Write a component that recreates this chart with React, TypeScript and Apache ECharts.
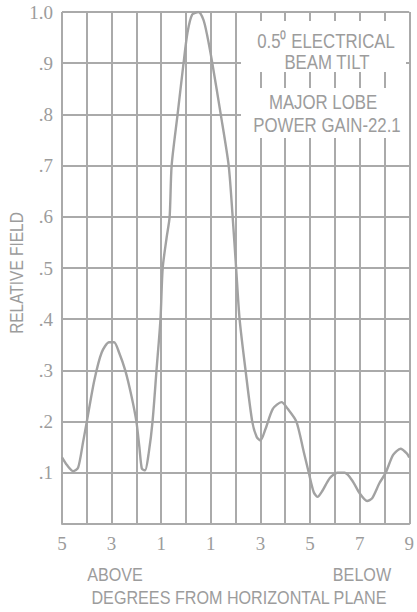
import React, { useEffect, useRef } from "react";
import * as echarts from "echarts";

// Degrees from horizontal plane (negative = above, positive = below)
const degrees = [
  -5.0, -4.8, -4.55, -4.35, -4.15, -4.0, -3.7, -3.4, -3.1, -2.9, -2.7, -2.45, -2.2, -2.0, -1.88, -1.78, -1.65, -1.5,
  -1.35, -1.19, -1.03, -0.94, -0.78, -0.66, -0.58, -0.34, -0.1, 0.06, 0.25, 0.5, 0.7, 0.85, 1.06, 1.4, 1.72, 1.88,
  2.02, 2.16, 2.4, 2.67, 2.85, 3.0, 3.2, 3.5, 3.85, 4.1, 4.45, 4.75, 4.95, 5.15, 5.3, 5.5, 5.8, 6.1, 6.4, 6.7, 7.0,
  7.3, 7.5, 7.8, 8.05, 8.35, 8.65, 8.9, 9.0,
];
const relativeField = [
  0.13, 0.115, 0.103, 0.11, 0.16, 0.2, 0.28, 0.335, 0.355, 0.355, 0.335, 0.3, 0.25, 0.2, 0.15, 0.108, 0.105, 0.14,
  0.2, 0.3, 0.4, 0.5, 0.56, 0.6, 0.7, 0.8, 0.9, 0.96, 0.995, 1.0, 0.985, 0.955, 0.9, 0.8, 0.7, 0.6,
  0.5, 0.4, 0.3, 0.2, 0.17, 0.163, 0.185, 0.225, 0.238, 0.225, 0.2, 0.14, 0.1, 0.062, 0.053, 0.065, 0.09, 0.1, 0.1, 0.085, 0.06,
  0.045, 0.05, 0.08, 0.1, 0.135, 0.147, 0.138, 0.13,
];

const xTickValues = [-5, -3, -1, 1, 3, 5, 7, 9];
const xTickLabels = ["5", "3", "1", "1", "3", "5", "7", "9"];
const yTickLabels = ["", ".1", ".2", ".3", ".4", ".5", ".6", ".7", ".8", ".9", "1.0"];

const noteLines = ["0.5\u2070 ELECTRICAL", "BEAM TILT", "MAJOR LOBE", "POWER GAIN-22.1"];

const GRAY = "#aaaaaa";
const TEXT = "#9c9c9c";
const SANS = "'Liberation Sans', Arial, sans-serif";
const SERIF = "'Liberation Serif', 'Times New Roman', serif";

export default function App() {
  const ref = useRef<HTMLDivElement>(null);

  useEffect(() => {
    if (!ref.current) return;
    const chart = echarts.init(ref.current, null, { renderer: "svg" });

    const sansText = (text: string, x: number, y: number, size: number, sx: number, extra: any = {}) => ({
      type: "text",
      x,
      y,
      scaleX: sx,
      z: 110,
      style: {
        text,
        fill: TEXT,
        font: `${size}px ${SANS}`,
        textAlign: "center",
        textVerticalAlign: "middle",
      },
      ...extra,
    });

    chart.setOption({
      animation: false,
      backgroundColor: "#ffffff",
      grid: { left: 62, top: 12, width: 349, height: 512, containLabel: false },
      xAxis: {
        type: "value",
        min: -5,
        max: 9,
        interval: 1,
        axisLine: { show: true, lineStyle: { color: GRAY, width: 2 } },
        axisTick: { show: false },
        splitLine: { show: true, lineStyle: { color: GRAY, width: 2 } },
        axisLabel: {
          margin: 10,
          color: TEXT,
          fontFamily: SERIF,
          fontSize: 19,
          showMinLabel: true,
          showMaxLabel: true,
          formatter: (v: number) => {
            const i = xTickValues.indexOf(Math.round(v));
            return i >= 0 ? xTickLabels[i] : "";
          },
        },
      },
      yAxis: {
        type: "value",
        min: 0,
        max: 1,
        interval: 0.1,
        axisLine: { show: true, lineStyle: { color: GRAY, width: 2 } },
        axisTick: { show: false },
        splitLine: { show: true, lineStyle: { color: GRAY, width: 2 } },
        axisLabel: {
          margin: 9,
          color: TEXT,
          fontFamily: SERIF,
          fontSize: 19,
          formatter: (v: number) => yTickLabels[Math.round(v * 10)] ?? "",
        },
      },
      series: [
        {
          type: "line",
          data: degrees.map((d, i) => [d, relativeField[i]]),
          showSymbol: false,
          smooth: 0.25,
          lineStyle: { color: "#a2a2a2", width: 2.4 },
          z: 5,
        },
      ],
      graphic: [
        { type: "rect", z: 100, shape: { x: 241, y: 21, width: 165, height: 51 }, style: { fill: "#ffffff" } },
        { type: "rect", z: 100, shape: { x: 241, y: 88, width: 168, height: 50 }, style: { fill: "#ffffff" } },
        sansText(noteLines[0], 326, 41, 21, 0.8),
        sansText(noteLines[1], 327, 62, 21, 0.8),
        sansText(noteLines[2], 323, 102, 21, 0.8),
        sansText(noteLines[3], 327, 125, 21, 0.8),
        sansText("RELATIVE FIELD", 17, 273, 18, 0.86, { rotation: Math.PI / 2, scaleX: 0.86 }),
        sansText("ABOVE", 115, 575, 19, 0.85),
        sansText("BELOW", 362, 575, 19, 0.85),
        sansText("DEGREES FROM HORIZONTAL PLANE", 239, 598, 19, 0.85),
      ],
    });

    return () => chart.dispose();
  }, []);

  return (
    <div
      ref={ref}
      style={{ position: "fixed", left: 0, top: 0, width: 417, height: 612, background: "#fff" }}
    />
  );
}
